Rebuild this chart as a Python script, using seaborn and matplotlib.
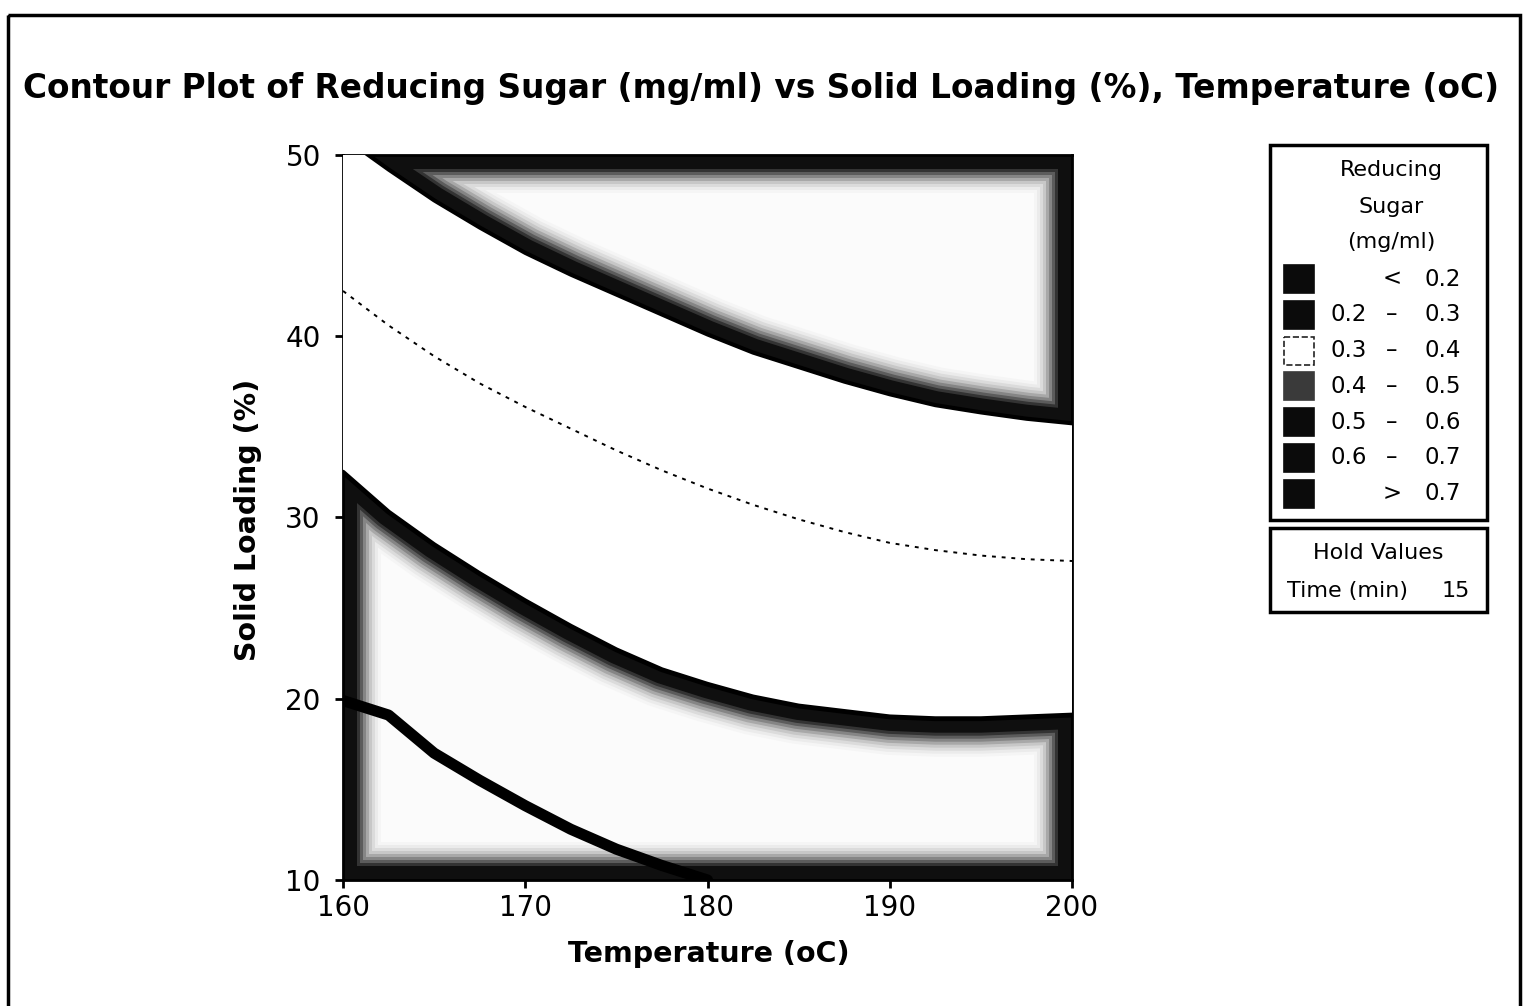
import numpy as np
import pandas as pd
import matplotlib
matplotlib.use("Agg")
import matplotlib.pyplot as plt
from matplotlib.patches import Rectangle
import seaborn as sns

# ---------------- data ----------------
temperature = [160, 162.5, 165, 167.5, 170, 172.5, 175, 177.5, 180,
               182.5, 185, 187.5, 190, 192.5, 195, 197.5, 200]
# solid loading (%) of each contour boundary at the temperatures above
contour_05 = [51.0, 49.2, 47.5, 46.0, 44.6, 43.4, 42.3, 41.2, 40.1,
              39.1, 38.3, 37.5, 36.8, 36.2, 35.8, 35.45, 35.2]
contour_04 = [42.5, 40.6, 38.9, 37.4, 36.1, 34.9, 33.7, 32.6, 31.6,
              30.7, 29.9, 29.2, 28.6, 28.2, 27.9, 27.7, 27.6]
contour_03 = [32.5, 30.3, 28.5, 26.9, 25.4, 24.0, 22.7, 21.6, 20.8,
              20.1, 19.6, 19.3, 19.0, 18.9, 18.9, 19.0, 19.1]
temperature_02 = [160, 162.5, 165, 167.5, 170, 172.5, 175, 177.5, 180]
contour_02 = [19.9, 19.1, 17.0, 15.5, 14.1, 12.8, 11.7, 10.8, 10.0]

x_ticks = [160, 170, 180, 190, 200]
y_ticks = [10, 20, 30, 40, 50]

legend_low = ["", "0.2", "0.3", "0.4", "0.5", "0.6", ""]
legend_sep = ["<", "–", "–", "–", "–", "–", ">"]
legend_high = ["0.2", "0.3", "0.4", "0.5", "0.6", "0.7", "0.7"]
legend_colors = ["#0b0b0b", "#0b0b0b", "#ffffff", "#3a3a3a",
                 "#0b0b0b", "#0b0b0b", "#0b0b0b"]
hold_name = "Time (min)"
hold_value = "15"

title = "Contour Plot of Reducing Sugar (mg/ml) vs Solid Loading (%), Temperature (oC)"

# ---------------- figure ----------------
sns.set_theme(style="white")
plt.rcParams['font.family'] = ['DejaVu Sans']

W, H = 1523, 1006
fig = plt.figure(figsize=(W / 100, H / 100), dpi=100)
fig.patch.set_facecolor("white")

L, R, T, B = 343, 1072, 155, 880
ax = fig.add_axes([L / W, 1 - B / H, (R - L) / W, (B - T) / H])
ax.set_xlim(160, 200)
ax.set_ylim(10, 50)

T_arr = np.array(temperature)
c5 = np.array(contour_05)
c4 = np.array(contour_04)
c3 = np.array(contour_03)

# halo layers (depth in px, gray level) to mimic the scanned dark edges
halo_depths = [38, 35, 32, 29, 26, 23, 20, 17, 14]
halo_grays = [0.96, 0.92, 0.86, 0.78, 0.66, 0.52, 0.36, 0.2, 0.06]


def halo_fill(x, y1, y2):
    ax.fill_between(x, y1, y2, facecolor="#fbfbfb", edgecolor="none", zorder=1)
    for depth, g in zip(halo_depths, halo_grays):
        ax.fill_between(x, y1, y2, facecolor="none", edgecolor=(g, g, g),
                        linewidth=2 * depth * 0.72, joinstyle="round", zorder=2)


# speckled regions with dark halos (scan look)
halo_fill(T_arr, c5, 50)
halo_fill(T_arr, 10, c3)
# clean white bands between 0.3 and 0.5 contours
ax.fill_between(T_arr, c3, c5, facecolor="white", edgecolor="none", zorder=3)

# contour lines
sns.lineplot(x=temperature, y=contour_05, ax=ax, color="black", linewidth=3,
             sort=False, estimator=None, zorder=5)
sns.lineplot(x=temperature, y=contour_04, ax=ax, color="black", linewidth=1.4,
             sort=False, estimator=None, zorder=5, linestyle=(0, (2, 3)))
sns.lineplot(x=temperature, y=contour_03, ax=ax, color="black", linewidth=3.5,
             sort=False, estimator=None, zorder=5)
sns.lineplot(x=temperature_02, y=contour_02, ax=ax, color="black", linewidth=8,
             sort=False, estimator=None, zorder=5)

ax.set_xticks(x_ticks)
ax.set_yticks(y_ticks)
ax.tick_params(axis="both", which="both", direction="out", length=6, width=2,
               labelsize=20, colors="black", bottom=True, left=True)
ax.tick_params(axis="y", pad=10)
ax.tick_params(axis="x", pad=4)
for s in ax.spines.values():
    s.set_visible(True)
    s.set_color("black")
    s.set_linewidth(2)

ax.set_xlabel("Temperature (oC)", fontsize=20.5, fontweight="bold", color="black")
ax.set_ylabel("Solid Loading (%)", fontsize=20.5, fontweight="bold", color="black")
ax.xaxis.set_label_coords((709 - L) / (R - L), -(940 - B) / (B - T))
ax.yaxis.set_label_coords((262 - L) / (R - L), (B - 520) / (B - T))

# ---------------- overlay in pixel coordinates ----------------
ov = fig.add_axes([0, 0, 1, 1], zorder=10)
ov.set_xlim(0, W)
ov.set_ylim(H, 0)
ov.axis("off")
ov.patch.set_alpha(0)

# outer frame
ov.add_patch(Rectangle((8, 15), 1512, 1006, fill=False, edgecolor="black", linewidth=2.5))

ov.text(W / 2, 88, title, ha="center", va="center", fontsize=23.6,
        fontweight="bold", color="black")

# legend box
ov.add_patch(Rectangle((1270, 145), 217, 375, fill=False, edgecolor="black", linewidth=2.5))
for txt, yy in zip(["Reducing", "Sugar", "(mg/ml)"], [170, 207, 242]):
    ov.text(1391, yy, txt, ha="center", va="center", fontsize=16, color="black")
for i in range(len(legend_high)):
    yy = 279 + i * 35.8
    col = legend_colors[i]
    ov.add_patch(Rectangle((1284, yy - 14), 30, 28, facecolor=col,
                           edgecolor="#222222" if col == "#ffffff" else col,
                           linewidth=1.2, linestyle="--" if col == "#ffffff" else "-"))
    if legend_low[i]:
        ov.text(1367, yy, legend_low[i], ha="right", va="center", fontsize=16.5, color="black")
    ov.text(1392, yy, legend_sep[i], ha="center", va="center", fontsize=16.5, color="black")
    ov.text(1461, yy, legend_high[i], ha="right", va="center", fontsize=16.5, color="black")

# hold values box
ov.add_patch(Rectangle((1270, 528), 217, 84, fill=False, edgecolor="black", linewidth=2.5))
ov.text(1378, 553, "Hold Values", ha="center", va="center", fontsize=16, color="black")
ov.text(1287, 591, hold_name, ha="left", va="center", fontsize=16, color="black")
ov.text(1470, 591, hold_value, ha="right", va="center", fontsize=16, color="black")

fig.savefig("out.png", dpi=100)
